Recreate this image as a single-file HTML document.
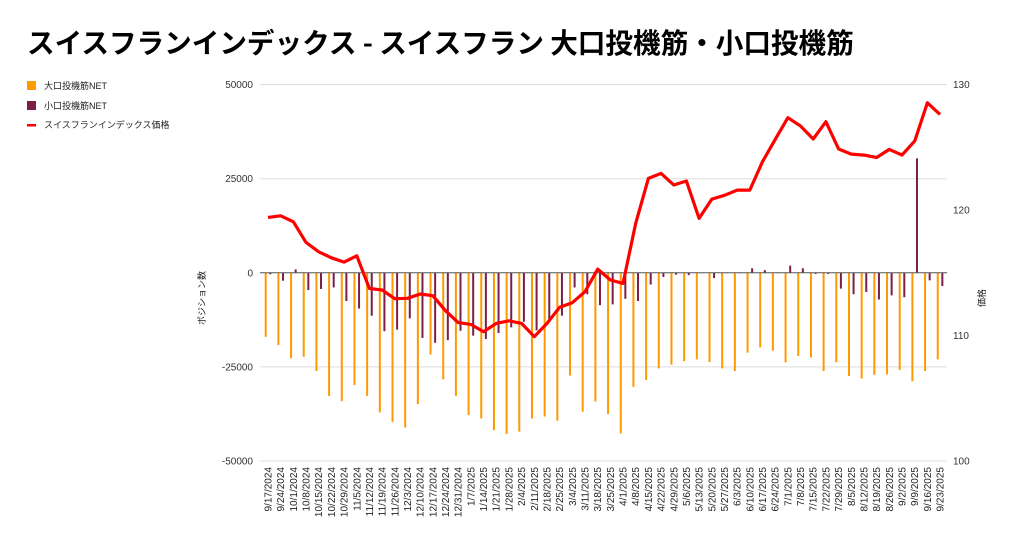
<!DOCTYPE html>
<html><head><meta charset="utf-8"><style>
body{margin:0;background:#fff;width:1024px;height:545px;overflow:hidden}
svg{display:block}
text{font-family:"Liberation Sans","Noto Sans CJK JP",sans-serif}
</style></head><body>
<svg id="c" width="1024" height="545" xmlns="http://www.w3.org/2000/svg">
<text x="27" y="53" font-size="27.6" font-weight="bold" fill="#000" style='font-family:"Noto Sans CJK JP",sans-serif'>スイスフランインデックス - スイスフラン 大口投機筋・小口投機筋</text>
<rect x="27" y="81" width="9" height="9" fill="#ff9900"/>
<text x="44" y="89" font-size="9" fill="#222">大口投機筋NET</text>
<rect x="27" y="101" width="9" height="9" fill="#7b1f4a"/>
<text x="44" y="109" font-size="9" fill="#222">小口投機筋NET</text>
<rect x="27" y="124" width="9" height="2.5" fill="#ff0000"/>
<text x="44" y="128" font-size="9" fill="#222">スイスフランインデックス価格</text>
<text transform="translate(205,298) rotate(-90)" font-size="9" text-anchor="middle" fill="#222">ポジション数</text>
<text transform="translate(985,298) rotate(-90)" font-size="9" text-anchor="middle" fill="#222">価格</text>
</svg>
<script>
var s=document.getElementById('c'),NS='http://www.w3.org/2000/svg';
function el(t,a,txt){var e=document.createElementNS(NS,t);for(var k in a)e.setAttribute(k,a[k]);if(txt!=null)e.textContent=txt;s.appendChild(e);return e;}
var big=[-17000,-19200,-22700,-22300,-26100,-32700,-34100,-29800,-32700,-37100,-39600,-41100,-34900,-21700,-28300,-32700,-37800,-38700,-41800,-42800,-42200,-38700,-38200,-39300,-27300,-36900,-34200,-37500,-42700,-30300,-28500,-25400,-24400,-23500,-23000,-23700,-25400,-26100,-21200,-19800,-20700,-23800,-22100,-22500,-26100,-23800,-27400,-28100,-27100,-27000,-25800,-28800,-26100,-23000];
var sm=[-400,-2100,900,-4600,-4300,-3900,-7500,-9500,-11400,-15500,-15100,-12100,-17300,-18600,-17900,-15400,-16700,-17600,-16000,-14500,-13000,-15300,-12600,-11400,-3900,-5700,-8600,-8400,-6900,-7500,-3100,-1100,-500,-600,-100,-1400,-100,-100,1200,700,-100,1900,1200,-300,-300,-4200,-5700,-5100,-7100,-6000,-6500,30400,-2000,-3500];
var pr=[119.42,119.55,119.07,117.43,116.68,116.2,115.86,116.36,113.76,113.63,112.94,112.97,113.31,113.18,111.98,111.03,110.89,110.31,110.97,111.18,110.97,109.91,110.97,112.25,112.62,113.5,115.3,114.43,114.16,118.95,122.53,122.93,122,122.32,119.34,120.88,121.18,121.6,121.6,123.86,125.64,127.37,126.7,125.67,127.05,124.87,124.47,124.39,124.2,124.84,124.39,125.5,128.56,127.63];
function yL(v){return 272.8-v*188.2/50000;}
function yR(v){return 461-(v-100)*376.3/30;}
var gl=[50000,25000,0,-25000,-50000];
gl.forEach(function(v){var y=yL(v);
 if(v!==0)el('line',{x1:260,x2:947,y1:y,y2:y,stroke:'#ddd','stroke-width':1});
 el('text',{x:253,y:y+3.5,'font-size':10,'text-anchor':'end',fill:'#333'},String(v));});
[130,120,110,100].forEach(function(v){el('text',{x:953,y:yR(v)+3.5,'font-size':10,fill:'#333'},String(v));});
var x0=268,dx=12.68;
for(var i=0;i<54;i++){var c=x0+i*dx;
 var b=big[i];el('rect',{x:c-3.3,y:Math.min(yL(0),yL(b)),width:2,height:Math.abs(yL(b)-yL(0)),fill:'#ff9900'});
 var m=sm[i];el('rect',{x:c+1.3,y:Math.min(yL(0),yL(m)),width:2,height:Math.abs(yL(m)-yL(0)),fill:'#7b1f4a'});
 var d=new Date(2024,8,17+7*i);
 var lab=(d.getMonth()+1)+'/'+d.getDate()+'/'+d.getFullYear();
 el('text',{transform:'translate('+(c+3.5)+',467) rotate(-90)','font-size':10,'text-anchor':'end',fill:'#222'},lab);}
el('line',{x1:260,x2:947,y1:yL(0),y2:yL(0),stroke:'#555','stroke-width':1});
var pts=pr.map(function(v,i){return (x0+i*dx).toFixed(1)+','+yR(v).toFixed(1);}).join(' ');
el('polyline',{points:pts,fill:'none',stroke:'#ff0000','stroke-width':3.2,'stroke-linejoin':'round'});
</script>
</body></html>
